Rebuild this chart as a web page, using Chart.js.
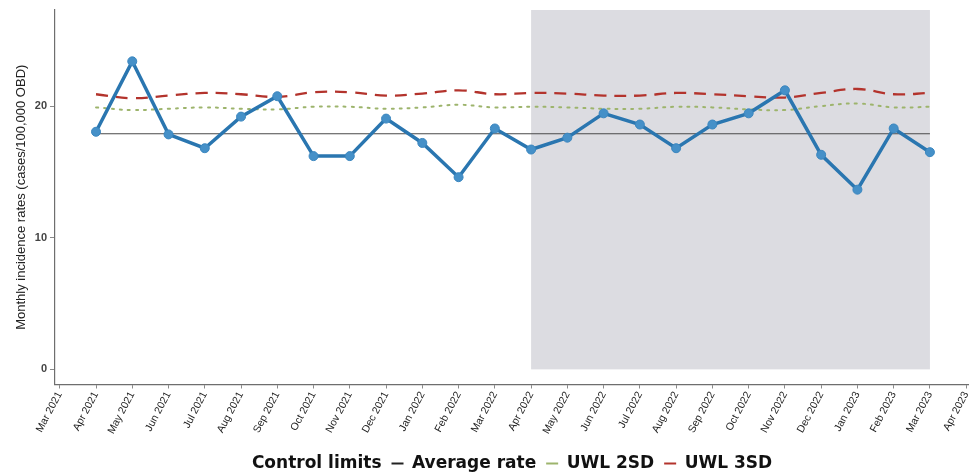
<!DOCTYPE html>
<html>
<head>
<meta charset="utf-8">
<script src="https://cdn.jsdelivr.net/npm/chart.js@4"></script>
<style>
  html, body { margin: 0; padding: 0; background: #ffffff; }
  #wrap { width: 974px; height: 476px; position: relative; }
</style>
</head>
<body>
<div id="wrap"><canvas id="c" width="974" height="476"></canvas></div>
<script>
// ---- data ----
const tickLabels = ['Mar 2021','Apr 2021','May 2021','Jun 2021','Jul 2021','Aug 2021','Sep 2021','Oct 2021',
  'Nov 2021','Dec 2021','Jan 2022','Feb 2022','Mar 2022','Apr 2022','May 2022','Jun 2022','Jul 2022',
  'Aug 2022','Sep 2022','Oct 2022','Nov 2022','Dec 2022','Jan 2023','Feb 2023','Mar 2023','Apr 2023'];
const dataMonths = ['Apr 2021','May 2021','Jun 2021','Jul 2021','Aug 2021','Sep 2021','Oct 2021','Nov 2021',
  'Dec 2021','Jan 2022','Feb 2022','Mar 2022','Apr 2022','May 2022','Jun 2022','Jul 2022','Aug 2022',
  'Sep 2022','Oct 2022','Nov 2022','Dec 2022','Jan 2023','Feb 2023','Mar 2023'];
const incidenceRate = [18.05,23.4,17.85,16.8,19.2,20.75,16.2,16.2,19.05,17.2,14.6,18.3,
  16.7,17.6,19.45,18.6,16.8,18.6,19.45,21.2,16.3,13.65,18.3,16.5];
const averageRate = [17.9,17.9,17.9,17.9,17.9,17.9,17.9,17.9,17.9,17.9,17.9,17.9,
  17.9,17.9,17.9,17.9,17.9,17.9,17.9,17.9,17.9,17.9,17.9,17.9];
const uwl2sd = [19.9,19.7,19.8,19.9,19.8,19.75,19.95,19.95,19.8,19.9,20.1,19.9,
  19.95,19.9,19.8,19.8,19.95,19.9,19.75,19.7,20.0,20.2,19.9,19.95];
const uwl3sd = [20.9,20.6,20.8,21.0,20.9,20.7,21.05,21.05,20.8,20.95,21.2,20.9,
  21.0,20.95,20.8,20.8,21.0,20.9,20.75,20.65,21.0,21.3,20.9,21.0];
const yTickValues = [0, 10, 20];
const shadedPeriod = ['Apr 2022', 'Mar 2023'];
const legendTitle = 'Control limits';
const yTitle = 'Monthly incidence rates (cases/100,000 OBD)';

// ---- build chart ----
const idx = m => tickLabels.indexOf(m);
const pts = arr => dataMonths.map((m, i) => ({ x: idx(m), y: arr[i] }));

const shadePlugin = {
  id: 'shade',
  beforeDatasetsDraw(chart) {
    const { ctx, chartArea, scales } = chart;
    const x0 = scales.x.getPixelForValue(idx(shadedPeriod[0]));
    const x1 = scales.x.getPixelForValue(idx(shadedPeriod[1]));
    const y0 = scales.y.getPixelForValue(0);
    ctx.save();
    ctx.fillStyle = '#dcdce1';
    ctx.fillRect(x0, chartArea.top, x1 - x0, y0 - chartArea.top);
    ctx.restore();
  }
};

const FONT = "'Liberation Sans', Arial, sans-serif";

new Chart(document.getElementById('c'), {
  type: 'line',
  data: {
    datasets: [
      { label: 'Average rate', data: pts(averageRate), borderColor: '#4a4a4a', borderWidth: 1.2,
        pointRadius: 0, legendColor: '#222222', order: 4 },
      { label: 'UWL 2SD', data: pts(uwl2sd), borderColor: '#9db46c', borderWidth: 2,
        borderDash: [2, 6], borderCapStyle: 'round', pointRadius: 0, tension: 0.4,
        legendColor: '#9db46c', order: 3 },
      { label: 'UWL 3SD', data: pts(uwl3sd), borderColor: '#b3332c', borderWidth: 2.3,
        borderDash: [12, 8], pointRadius: 0, tension: 0.4, legendColor: '#b3332c', order: 2 },
      { label: 'Monthly rate', data: pts(incidenceRate), borderColor: '#2a76b0', borderWidth: 3.5,
        pointRadius: 4.5, pointBackgroundColor: '#4590c8', pointBorderColor: '#3a86bf',
        pointBorderWidth: 1, tension: 0, order: 1, hideLegend: true }
    ]
  },
  options: {
    responsive: false,
    animation: false,
    layout: { padding: { top: 10, right: 6, left: 0, bottom: -6 } },
    plugins: {
      tooltip: { enabled: false },
      legend: {
        position: 'bottom',
        onClick: null,
        labels: {
          font: { family: "'DejaVu Sans', sans-serif", size: 17, weight: 'bold' },
          color: '#111111',
          boxWidth: 12,
          boxHeight: 2,
          padding: 10,
          generateLabels(chart) {
            const items = [{ text: '      ' + legendTitle, fillStyle: 'rgba(0,0,0,0)', strokeStyle: 'rgba(0,0,0,0)',
              lineWidth: 0, hidden: false, datasetIndex: -1, fontColor: '#111111' }];
            chart.data.datasets.forEach((ds, i) => {
              if (ds.hideLegend) return;
              items.push({ text: ds.label, fillStyle: ds.legendColor, strokeStyle: ds.legendColor,
                lineWidth: 0, hidden: false, datasetIndex: i, fontColor: '#111111' });
            });
            return items;
          }
        }
      }
    },
    scales: {
      x: {
        type: 'linear',
        min: -0.131,
        max: 25.05,
        afterBuildTicks(scale) { scale.ticks = tickLabels.map((_, i) => ({ value: i })); },
        afterFit(scale) { scale.height = 60.5; scale.paddingRight = 0; scale.paddingLeft = 0; },
        ticks: {
          autoSkip: false,
          minRotation: 62,
          maxRotation: 62,
          padding: 1,
          color: '#222222',
          font: { family: FONT, size: 10.5 },
          callback: v => tickLabels[v]
        },
        grid: { drawOnChartArea: false, drawTicks: true, tickLength: 4, color: '#8a8a8a' },
        border: { color: '#6e6e6e', width: 1.2 }
      },
      y: {
        min: -1.15,
        max: 27.3,
        afterBuildTicks(scale) { scale.ticks = yTickValues.map(v => ({ value: v })); },
        afterFit(scale) { scale.width = 55; },
        ticks: {
          color: '#444444',
          padding: 3,
          font: { family: FONT, size: 11, weight: 'bold' }
        },
        grid: { drawOnChartArea: false, drawTicks: true, tickLength: 5, color: '#8a8a8a' },
        border: { color: '#6e6e6e', width: 1.2 },
        title: {
          display: true,
          text: yTitle,
          color: '#222222',
          font: { family: FONT, size: 13 },
          padding: { top: 14, bottom: 4 }
        }
      }
    }
  },
  plugins: [shadePlugin]
});
</script>
</body>
</html>
